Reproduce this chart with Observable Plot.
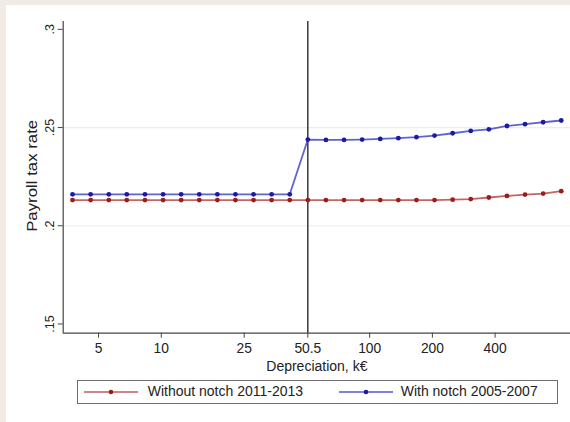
<!DOCTYPE html>
<html>
<head>
<meta charset="utf-8">
<script src="https://cdn.jsdelivr.net/npm/d3@7"></script>
<script src="https://cdn.jsdelivr.net/npm/@observablehq/plot@0.6"></script>
<style>
  html, body { margin: 0; padding: 0; background: #f2ebe5; width: 570px; height: 422px; overflow: hidden; }
  #frame { position: absolute; left: 6px; top: 5px; width: 564px; height: 417px; background: #ffffff; }
  #chart { position: absolute; left: 0; top: 0; }
  #legend { position: absolute; left: 70.7px; top: 374.5px; width: 479px; height: 22px; border: 1px solid #6e6e6e;
            font-family: "Liberation Sans", Arial, sans-serif; font-size: 14px; color: #222; }
  .sw { position: absolute; top: 4px; }
  .lt { position: absolute; top: 2.5px; white-space: nowrap; }
</style>
</head>
<body>
<div id="frame">
  <div id="chart"></div>
  <div id="legend"></div>
</div>
<script>
// ---- data ----
const depreciation = [3.75, 4.58, 5.60, 6.83, 8.35, 10.20, 12.45, 15.21, 18.58, 22.69, 27.71, 33.85, 41.35,
                      50.5, 61.68, 75.34, 92.02, 112.39, 137.27, 167.67, 204.79, 250.13, 305.51, 373.15, 455.76, 556.67, 679.92, 830.45];
const withoutNotch = [0.2131, 0.2131, 0.2131, 0.2131, 0.2131, 0.2131, 0.2131, 0.2131, 0.2131, 0.2131, 0.2131, 0.2131, 0.2131,
                      0.2131, 0.2131, 0.2131, 0.2131, 0.2131, 0.2131, 0.2131, 0.2131, 0.2133, 0.2136, 0.2144, 0.2152, 0.2159, 0.2164, 0.2176];
const withNotch = [0.2160, 0.2160, 0.2160, 0.2160, 0.2160, 0.2160, 0.2160, 0.2160, 0.2160, 0.2160, 0.2160, 0.2160, 0.2160,
                   0.2439, 0.2437, 0.2437, 0.2439, 0.2442, 0.2446, 0.2451, 0.2459, 0.2471, 0.2483, 0.2491, 0.2508, 0.2517, 0.2527, 0.2536];
const seriesNames = ["Without notch 2011-2013", "With notch 2005-2007"];
const xTicks = [5, 10, 25, 50.5, 100, 200, 400];
const xTickLabels = ["5", "10", "25", "50.5", "100", "200", "400"];
const yTicks = [0.15, 0.2, 0.25, 0.3];
const yTickLabels = [".15", ".2", ".25", ".3"];
const gridValues = [0.2, 0.25];
const notch = [50.5];
const xTitle = "Depreciation, k€";
const yTitle = "Payroll tax rate";

const lineColors = ["#b4403c", "#3b3bc4"];
const dotColors = ["#9c1c18", "#1a1aa6"];

const rows = [];
depreciation.forEach((d, i) => {
  rows.push({x: d, y: withoutNotch[i], s: seriesNames[0]});
  rows.push({x: d, y: withNotch[i], s: seriesNames[1]});
});
const yLab = new Map(yTicks.map((t, i) => [t, yTickLabels[i]]));
const xLab = new Map(xTicks.map((t, i) => [t, xTickLabels[i]]));
const xMin = 3.383, xMax = 920, yMin = 0.1453, yMax = 0.3040;

const font = "'Liberation Sans', Arial, sans-serif";
const chart = Plot.plot({
  width: 564,
  height: 370,
  marginLeft: 56.7,
  marginRight: 0,
  marginTop: 16,
  marginBottom: 42.3,
  style: {fontFamily: font, fontSize: "13px", color: "#222", background: "transparent"},
  x: {type: "log", domain: [xMin, xMax], axis: null},
  y: {domain: [yMin, yMax], axis: null},
  color: {domain: seriesNames, range: lineColors},
  marks: [
    Plot.ruleY(gridValues, {stroke: "#e6efef", strokeWidth: 1.2}),
    // x ticks and labels
    Plot.ruleX(xTicks, {x: d => d, y1: yMin, y2: yMin, stroke: "#444", strokeWidth: 1, insetBottom: -5}),
    Plot.text(xTicks, {x: d => d, frameAnchor: "bottom", text: d => xLab.get(d), dy: 19.5, fill: "#222", fontSize: 13.8}),
    // y ticks and labels
    Plot.ruleY(yTicks, {y: d => d, x1: xMin, x2: xMin, stroke: "#444", strokeWidth: 1, insetLeft: -5}),
    Plot.text(yTicks, {frameAnchor: "left", textAnchor: "middle", y: d => d, text: d => yLab.get(d), rotate: -90, dx: -13.7, fill: "#222", fontSize: 12.5}),
    Plot.text([yTitle], {frameAnchor: "left", textAnchor: "middle", rotate: -90, dx: -30.7, dy: -1.5, fill: "#222", fontSize: 14}),
    Plot.text([xTitle], {frameAnchor: "bottom", dy: 38, fill: "#222", fontSize: 14}),
    Plot.ruleX(notch, {stroke: "#1a1a1a", strokeWidth: 1.3}),
    Plot.line(rows, {x: "x", y: "y", z: "s", stroke: "s", strokeWidth: 1.8, strokeOpacity: 0.8}),
    Plot.dot(rows, {x: "x", y: "y", fill: d => dotColors[seriesNames.indexOf(d.s)], r: 2.4}),
    Plot.ruleY([yMin], {stroke: "#444", strokeWidth: 1.2}),
    Plot.ruleX([xMin], {stroke: "#444", strokeWidth: 1.2})
  ]
});
document.getElementById("chart").appendChild(chart);

// stretch the y title to the reference's length
d3.select(chart).selectAll("text").filter(function() { return this.textContent === yTitle; })
  .attr("textLength", 112).attr("lengthAdjust", "spacingAndGlyphs");

// legend
const legend = document.getElementById("legend");
const swX = [5, 260];
const txX = [70, 323];
seriesNames.forEach((name, i) => {
  const sw = document.createElementNS("http://www.w3.org/2000/svg", "svg");
  sw.setAttribute("width", 56); sw.setAttribute("height", 14);
  sw.setAttribute("class", "sw");
  sw.style.left = swX[i] + "px";
  sw.innerHTML = `<line x1="1" x2="55" y1="7" y2="7" stroke="${lineColors[i]}" stroke-width="1.6" stroke-opacity="0.85"/>` +
                 `<circle cx="28" cy="7" r="2.3" fill="${dotColors[i]}"/>`;
  legend.appendChild(sw);
  const t = document.createElement("span");
  t.className = "lt"; t.style.left = txX[i] + "px"; t.textContent = name;
  legend.appendChild(t);
});
</script>
</body>
</html>
